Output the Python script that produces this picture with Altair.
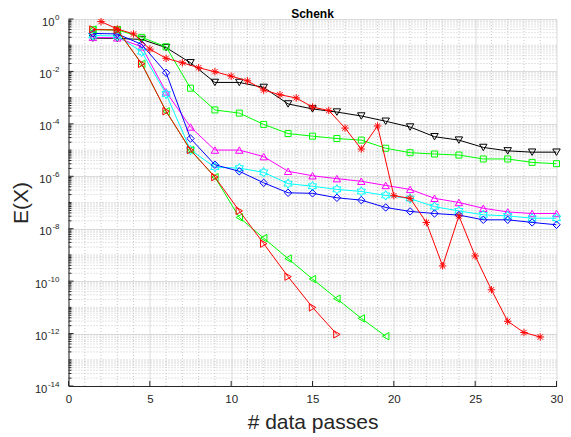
import math
import altair as alt
import pandas as pd

# ---------------- data (values are log10 of E(X)) ----------------
x_step = [1.5, 3, 4.5, 6, 7.5, 9, 10.5, 12, 13.5, 15, 16.5, 18, 19.5, 21, 22.5, 24, 25.5, 27, 28.5, 30]
x_star = [2, 3, 4, 5, 6, 7, 8, 9, 10, 11, 12, 13, 14, 15, 16, 17, 18, 19, 20, 21, 22, 23, 24, 25, 26, 27, 28, 29]

black_tri_down = [-0.73, -0.74, -0.78, -1.09, -1.67, -2.42, -2.42, -2.61, -3.24, -3.43,
                  -3.55, -3.70, -3.90, -4.12, -4.49, -4.62, -4.90, -5.03, -5.08, -5.08]
green_square = [-0.41, -0.41, -0.70, -1.06, -2.64, -3.47, -3.59, -4.02, -4.37, -4.47,
                -4.56, -4.62, -4.93, -5.10, -5.15, -5.19, -5.34, -5.34, -5.47, -5.52]
magenta_tri_up = [-0.70, -0.72, -1.06, -2.78, -4.12, -5.00, -5.00, -5.25, -5.81, -5.98,
                  -6.09, -6.19, -6.35, -6.50, -6.84, -7.00, -7.22, -7.36, -7.42, -7.42]
cyan_hexagram = [-0.63, -0.65, -1.25, -2.86, -5.00, -5.65, -5.69, -5.85, -6.28, -6.38,
                 -6.50, -6.58, -6.73, -6.85, -7.16, -7.32, -7.47, -7.51, -7.60, -7.60]
blue_diamond = [-0.55, -0.57, -0.97, -2.05, -4.56, -5.56, -5.81, -6.25, -6.63, -6.65,
                -6.82, -6.91, -7.19, -7.34, -7.42, -7.48, -7.66, -7.66, -7.76, -7.85]
green_tri_left = [-0.40, -0.42, -1.71, -3.52, -5.00, -6.03, -7.57, -8.36, -9.14, -9.92,
                  -10.67, -11.42, -12.10]
red_tri_right = [-0.40, -0.42, -1.71, -3.52, -5.00, -6.03, -7.32, -8.57, -9.83, -11.00, -12.03]
red_star = [-0.10, -0.38, -0.57, -1.15, -1.50, -1.67, -1.86, -2.01, -2.18, -2.36,
            -2.71, -2.89, -3.01, -3.36, -3.49, -4.16, -4.96, -4.08, -6.74, -6.84,
            -7.76, -9.42, -7.51, -9.04, -10.33, -11.53, -11.96, -12.13]

x_ticks = [0, 5, 10, 15, 20, 25, 30]
y_decades = [0, -2, -4, -6, -8, -10, -12, -14]
title_text = ["Schenk"]

# ---------------- marker shapes ----------------
def star_path(n, r_in):
    pts = []
    for i in range(2 * n):
        r = 1.0 if i % 2 == 0 else r_in
        a = -math.pi / 2 + i * math.pi / n
        pts.append(f"{r * math.cos(a):.3f},{r * math.sin(a):.3f}")
    return "M" + "L".join(pts) + "Z"

HEXAGRAM = star_path(6, 0.577)
ASTERISK = "M-1,0L1,0M0,-1L0,1M-0.72,-0.72L0.72,0.72M-0.72,0.72L0.72,-0.72"

W, H = 488, 367
FONT = "Liberation Sans"
TXT = "#262626"

xscale = alt.Scale(domain=[0, 30], nice=False, zero=False)
yscale = alt.Scale(type="log", domain=[1e-14, 1], nice=False)

x_axis = alt.Axis(values=x_ticks, grid=True, gridColor="#dcdcdc", gridWidth=1, ticks=False,
                  domainColor=TXT, domainWidth=1, labelFont=FONT, labelFontSize=11.5, labelColor=TXT,
                  labelPadding=7, title="# data passes", titleFont=FONT, titleFontSize=21,
                  titleFontWeight="normal", titleColor=TXT, titlePadding=7, labelFlush=False)
y_axis = alt.Axis(values=[10.0 ** e for e in y_decades], grid=True, gridColor="#dcdcdc", gridWidth=1,
                  ticks=False, labels=False, domainColor=TXT, domainWidth=1, title="E(X)",
                  titleFont=FONT, titleFontSize=21, titleFontWeight="normal", titleColor=TXT,
                  titlePadding=37)

X = alt.X("x:Q", scale=xscale, axis=x_axis)
Y = alt.Y("y:Q", scale=yscale, axis=y_axis)

# minor grid values
y_minor = []
for k in range(-14, 0):
    for m in range(1, 10):
        if m == 1 and k % 2 == 0:
            continue
        y_minor.append(m * 10.0 ** k)
x_minor = [v for v in range(1, 30) if v % 5 != 0]

df_ym = pd.DataFrame({"y": y_minor})
df_xm = pd.DataFrame({"x": x_minor})
df_yM = pd.DataFrame({"y": [10.0 ** e for e in y_decades]})
df_xM = pd.DataFrame({"x": x_ticks})

layers = []
layers.append(alt.Chart(df_ym).mark_rule(color="#c8c8c8", strokeDash=[1, 2], strokeWidth=1).encode(y=Y))
layers.append(alt.Chart(df_xm).mark_rule(color="#c8c8c8", strokeDash=[1, 2], strokeWidth=1).encode(x=X))
# inward ticks
layers.append(alt.Chart(df_ym).mark_rule(color=TXT, strokeWidth=1).encode(y=Y, x=alt.value(0), x2=alt.value(3)))
layers.append(alt.Chart(df_yM).mark_rule(color=TXT, strokeWidth=1).encode(y=Y, x=alt.value(0), x2=alt.value(5)))
layers.append(alt.Chart(df_xM).mark_rule(color=TXT, strokeWidth=1).encode(x=X, y=alt.value(H), y2=alt.value(H - 5)))

# y tick labels: "10" with a raised exponent, right aligned
EXP_RIGHT = -9.0
def exp_width(s):
    return sum(2.67 if c == "-" else 4.45 for c in s)

groups = {}
for e in y_decades:
    s = str(e)
    groups.setdefault(len(s), []).append(e)
for ln, es in groups.items():
    s_example = str(es[0])
    dfl = pd.DataFrame({"y": [10.0 ** e for e in es], "base": ["10"] * len(es), "exp": [str(e) for e in es]})
    layers.append(alt.Chart(dfl).mark_text(align="right", baseline="alphabetic", font=FONT, fontSize=11.2,
                                           color=TXT, dy=6.5).encode(
        y=Y, x=alt.value(EXP_RIGHT - exp_width(s_example) - 0.6), text="base:N"))
    layers.append(alt.Chart(dfl).mark_text(align="right", baseline="alphabetic", font=FONT, fontSize=8,
                                           color=TXT, dy=0.6).encode(
        y=Y, x=alt.value(EXP_RIGHT), text="exp:N"))

series = [
    ("black", x_step, black_tri_down, "#000000", "triangle-down", 55),
    ("green_sq", x_step, green_square, "#00ff00", "square", 36),
    ("magenta", x_step, magenta_tri_up, "#ff00ff", "triangle-up", 55),
    ("cyan", x_step, cyan_hexagram, "#00ffff", HEXAGRAM, 90),
    ("blue", x_step, blue_diamond, "#0000ff", "diamond", 55),
    ("green_tl", x_step[:len(green_tri_left)], green_tri_left, "#00ff00", "triangle-left", 55),
    ("red_tr", x_step[:len(red_tri_right)], red_tri_right, "#ff0000", "triangle-right", 55),
    ("red_star", x_star, red_star, "#ff0000", ASTERISK, 55),
]

for name, xs, logs, col, shape, size in series:
    df = pd.DataFrame({"x": xs, "y": [10.0 ** v for v in logs]})
    base = alt.Chart(df)
    layers.append(base.mark_line(color=col, strokeWidth=1, clip=True).encode(x=X, y=Y))
    layers.append(base.mark_point(shape=shape, color=col, size=size, filled=False, strokeWidth=1,
                                  opacity=1).encode(x=X, y=Y))

# chart title as a text mark (kept inside the drawing)
layers.append(alt.Chart(pd.DataFrame({"t": title_text})).mark_text(
    align="center", baseline="alphabetic", font=FONT, fontSize=12, fontWeight="bold", color="#000000").encode(
    x=alt.value(W / 2), y=alt.value(-1.5), text="t:N"))

chart = alt.layer(*layers).properties(
    width=W, height=H,
    autosize=alt.AutoSizeParams(type="none"),
    padding={"left": 60.5, "top": 11, "right": 6, "bottom": 50},
).configure_view(stroke=None)

chart.save("out.html", embed_options={"renderer": "svg", "actions": False})
